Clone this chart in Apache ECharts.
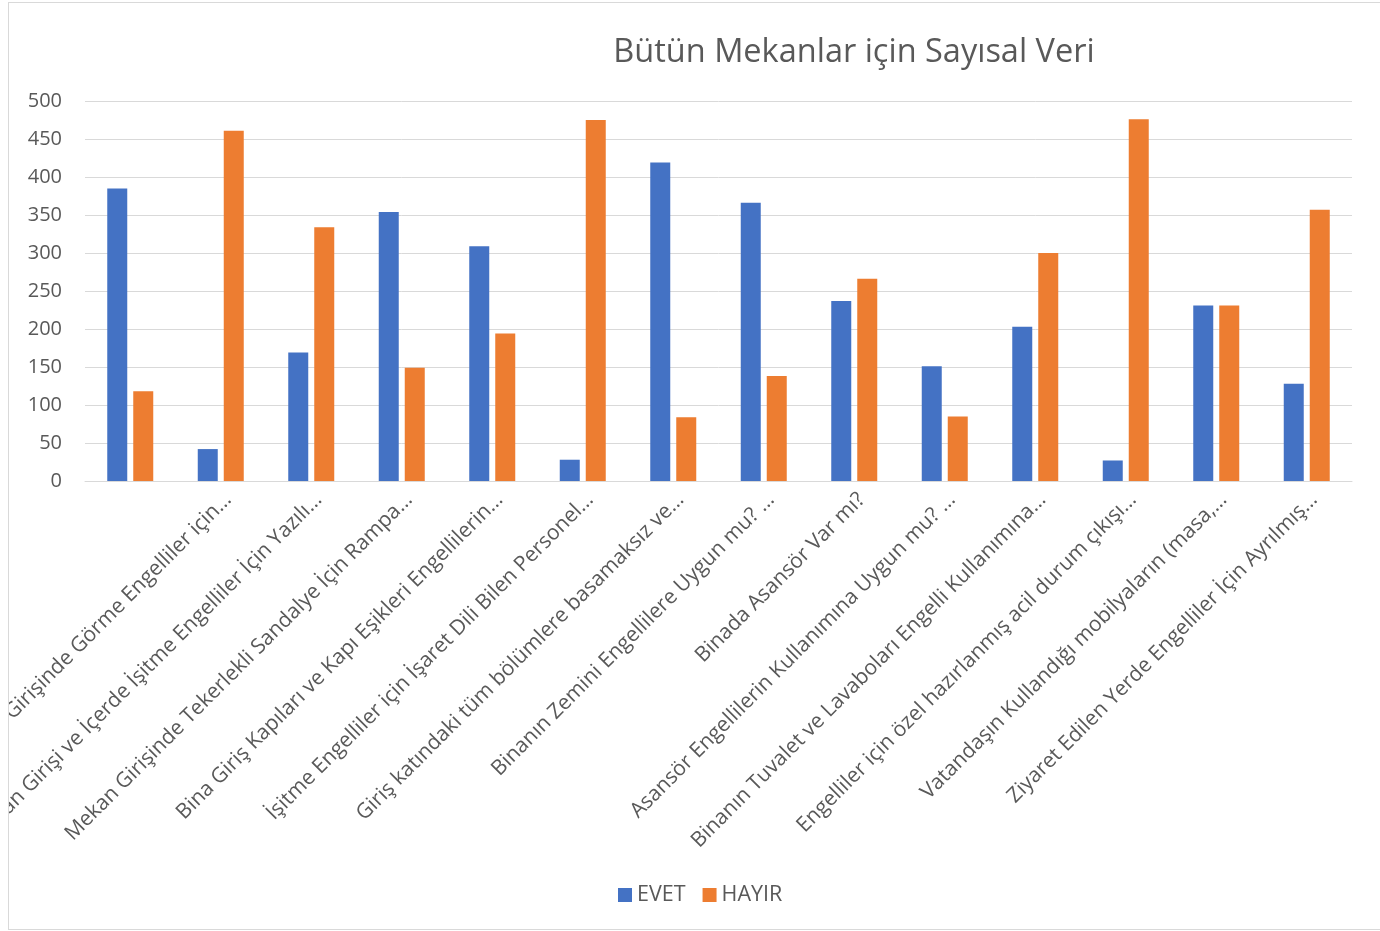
<!DOCTYPE html>
<html>
<head>
<meta charset="utf-8">
<script src="https://cdn.jsdelivr.net/npm/echarts@6/dist/echarts.min.js"></script>
<style>
  html, body { margin: 0; padding: 0; background: #ffffff; }
  #wrap { position: absolute; left: 8px; top: 2px; width: 1371px; height: 926px;
          border-left: 1px solid #d9d9d9; border-top: 1px solid #d9d9d9; border-bottom: 1px solid #d9d9d9; overflow: hidden; }
  #chart { width: 1371px; height: 926px; }
</style>
</head>
<body>
<div id="wrap"><div id="chart"></div></div>
<script>
const titleText = 'Bütün Mekanlar için Sayısal Veri';
const categories = [
  '',
  'Mekan Girişinde Görme Engelliler için…',
  'Mekan Girişi ve İçerde İşitme Engelliler İçin Yazılı…',
  'Mekan Girişinde Tekerlekli Sandalye İçin Rampa…',
  'Bina Giriş Kapıları ve Kapı Eşikleri Engellilerin…',
  'İşitme Engelliler için İşaret Dili Bilen Personel…',
  'Giriş katındaki tüm bölümlere basamaksız ve…',
  'Binanın Zemini Engellilere Uygun mu? …',
  'Binada Asansör Var mı?',
  'Asansör Engellilerin Kullanımına Uygun mu? …',
  'Binanın Tuvalet ve Lavaboları Engelli Kullanımına…',
  'Engelliler için özel hazırlanmış acil durum çıkışı…',
  'Vatandaşın Kullandığı mobilyaların (masa,…',
  'Ziyaret Edilen Yerde Engelliler İçin Ayrılmış…'
];
const evet  = [385, 42, 169, 354, 309, 28, 419, 366, 237, 151, 203, 27, 231, 128];
const hayir = [118, 461, 334, 149, 194, 475, 84, 138, 266, 85, 300, 476, 231, 357];
const yTicks = { min: 0, max: 500, interval: 50 };

const font = '"Open Sans", "Noto Sans", sans-serif';
const chart = echarts.init(document.getElementById('chart'), null, { renderer: 'canvas' });
chart.setOption({
  animation: false,
  backgroundColor: '#ffffff',
  title: {
    text: titleText,
    left: 840,
    top: 28,
    textAlign: 'center',
    textStyle: { fontFamily: font, fontSize: 32.5, fontWeight: 'normal', color: '#595959' }
  },
  legend: {
    data: ['EVET', 'HAYIR'],
    left: 604,
    top: 876,
    icon: 'rect',
    itemWidth: 14,
    itemHeight: 14,
    itemGap: 17,
    textStyle: { fontFamily: font, fontSize: 21.5, color: '#595959' }
  },
  grid: { left: 76, right: 28, top: 98, bottom: 448, containLabel: false, outerBoundsMode: 'none' },
  xAxis: {
    type: 'category',
    data: categories,
    axisLine: { show: true, lineStyle: { color: '#d9d9d9', width: 1 } },
    axisTick: { show: false },
    axisLabel: {
      interval: 0,
      rotate: 45,
      align: 'right',
      verticalAlign: 'top',
      margin: 8,
      fontFamily: font,
      fontSize: 21,
      color: '#595959'
    },
    splitLine: { show: false }
  },
  yAxis: {
    type: 'value',
    min: yTicks.min,
    max: yTicks.max,
    interval: yTicks.interval,
    axisLine: { show: false },
    axisTick: { show: false },
    axisLabel: { margin: 23, fontFamily: font, fontSize: 20, color: '#595959' },
    splitLine: { lineStyle: { color: '#d9d9d9', width: 1 } }
  },
  series: [
    { name: 'EVET', type: 'bar', data: evet, barWidth: 20, barGap: '30%',
      itemStyle: { color: '#4472C4' } },
    { name: 'HAYIR', type: 'bar', data: hayir, barWidth: 20, barGap: '30%',
      itemStyle: { color: '#ED7D31' } }
  ]
});
</script>
</body>
</html>
